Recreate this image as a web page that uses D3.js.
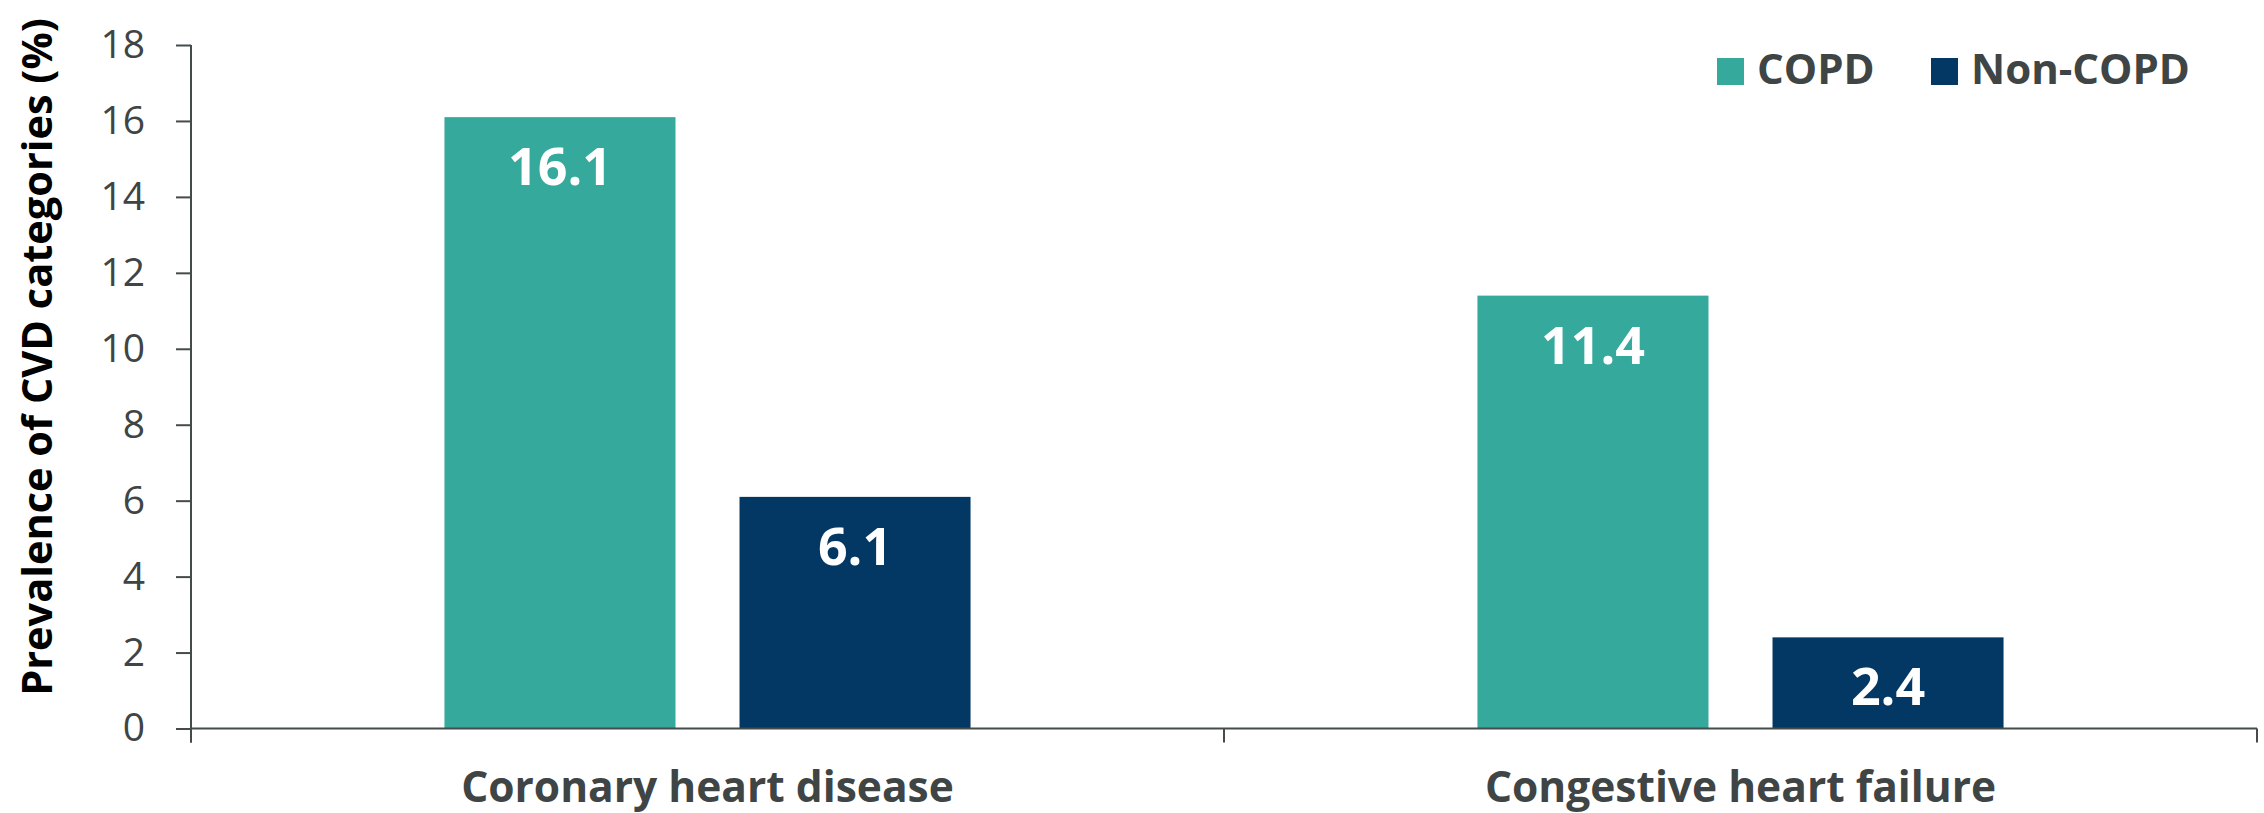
<!DOCTYPE html>
<html>
<head>
<meta charset="utf-8">
<script src="https://cdn.jsdelivr.net/npm/d3@7"></script>
<style>
  html, body { margin: 0; padding: 0; background: #ffffff; }
  svg { display: block; }
  text { font-family: "Open Sans", "Noto Sans", sans-serif; }
</style>
</head>
<body>
<svg id="chart" width="2264" height="813"></svg>
<script>
// Prevalence of CVD categories (%) by COPD status
const categories = ["Coronary heart disease", "Congestive heart failure"];
const seriesNames = ["COPD", "Non-COPD"];
const copdValues = [16.1, 11.4];
const nonCopdValues = [6.1, 2.4];
const yTicks = [0, 2, 4, 6, 8, 10, 12, 14, 16, 18];
const yTitle = "Prevalence of CVD categories (%)";

const colors = { "COPD": "#34a99c", "Non-COPD": "#033764" };
const textColor = "#3f4444";
const axisColor = "#454a4a";

const svg = d3.select("#chart");
const W = 2264, H = 813;
const margin = { top: 45, right: 7, bottom: 85, left: 191 };

const x = d3.scaleBand()
  .domain(categories)
  .range([margin.left, W - margin.right])
  .paddingInner(0)
  .paddingOuter(0);

const xs = d3.scaleBand()
  .domain(seriesNames)
  .range([0, x.bandwidth()])
  .paddingInner(0.217)
  .paddingOuter(0.859);

const y = d3.scaleLinear()
  .domain([0, 18])
  .range([H - margin.bottom + 0.5, margin.top]);

const rows = categories.map((c, i) => ({
  category: c,
  values: [
    { series: "COPD", value: copdValues[i] },
    { series: "Non-COPD", value: nonCopdValues[i] }
  ]
}));

// Bars
const groups = svg.append("g").selectAll("g")
  .data(rows)
  .join("g")
  .attr("transform", d => `translate(${x(d.category)},0)`);

groups.selectAll("rect")
  .data(d => d.values)
  .join("rect")
  .attr("x", d => xs(d.series))
  .attr("y", d => y(d.value))
  .attr("width", xs.bandwidth())
  .attr("height", d => y(0) - y(d.value))
  .attr("fill", d => colors[d.series]);

// Value labels inside the top of each bar
groups.selectAll("text.value")
  .data(d => d.values)
  .join("text")
  .attr("class", "value")
  .attr("x", d => xs(d.series) + xs.bandwidth() / 2)
  .attr("y", d => y(d.value) + 68)
  .attr("text-anchor", "middle")
  .attr("fill", "#ffffff")
  .attr("font-weight", 700)
  .attr("font-size", 52)
  .text(d => d3.format(".1f")(d.value));

// Y axis
const yAxis = svg.append("g")
  .attr("transform", `translate(${margin.left},0)`)
  .call(d3.axisLeft(y).tickValues(yTicks).tickSize(15).tickPadding(31).tickSizeOuter(0));
yAxis.select(".domain").remove();
yAxis.selectAll(".tick line").attr("stroke", axisColor).attr("stroke-width", 2);
yAxis.selectAll(".tick text")
  .attr("fill", textColor)
  .attr("font-size", 39)
  .attr("font-family", "'Open Sans', sans-serif");
yAxis.append("line")
  .attr("x1", 0).attr("x2", 0)
  .attr("y1", y(18)).attr("y2", y(0) + 14)
  .attr("stroke", axisColor).attr("stroke-width", 2);

// X axis baseline and category boundary ticks
const xAxis = svg.append("g");
xAxis.append("line")
  .attr("x1", x.range()[0]).attr("x2", x.range()[1])
  .attr("y1", y(0)).attr("y2", y(0))
  .attr("stroke", axisColor).attr("stroke-width", 2);
const boundaries = categories.map(c => x(c)).concat([x(categories[categories.length - 1]) + x.bandwidth()]);
xAxis.selectAll("line.bound")
  .data(boundaries)
  .join("line")
  .attr("class", "bound")
  .attr("x1", d => d).attr("x2", d => d)
  .attr("y1", y(0)).attr("y2", y(0) + 14)
  .attr("stroke", axisColor).attr("stroke-width", 2);

// Category labels
xAxis.selectAll("text.cat")
  .data(categories)
  .join("text")
  .attr("class", "cat")
  .attr("x", d => x(d) + x.bandwidth() / 2)
  .attr("y", 802)
  .attr("text-anchor", "middle")
  .attr("fill", textColor)
  .attr("font-weight", 700)
  .attr("font-size", 42.5)
  .text(d => d);

// Y axis title
svg.append("text")
  .attr("transform", `translate(52,${357}) rotate(-90)`)
  .attr("text-anchor", "middle")
  .attr("fill", "#000000")
  .attr("font-weight", 700)
  .attr("font-size", 41.5)
  .text(yTitle);

// Legend
const legendX = [1717, 1931];
const legend = svg.append("g").selectAll("g")
  .data(seriesNames)
  .join("g")
  .attr("transform", (d, i) => `translate(${legendX[i]},58)`);
legend.append("rect")
  .attr("width", 27).attr("height", 27)
  .attr("fill", d => colors[d]);
legend.append("text")
  .attr("x", 40).attr("y", 26)
  .attr("fill", textColor)
  .attr("font-weight", 700)
  .attr("font-size", 42)
  .text(d => d);
</script>
</body>
</html>
